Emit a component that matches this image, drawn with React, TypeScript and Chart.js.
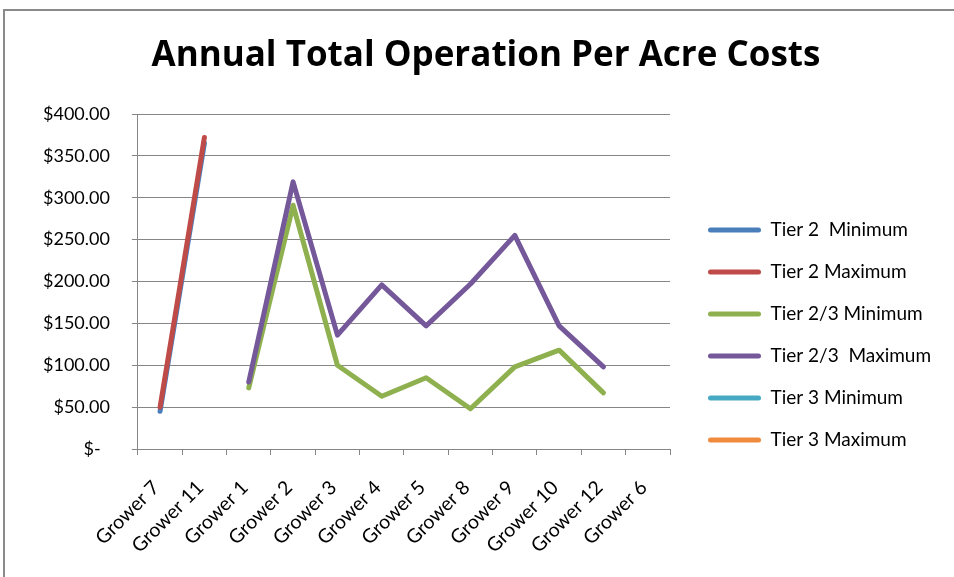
import React, { useEffect, useRef } from "react";
import { Chart, registerables } from "chart.js";

Chart.register(...registerables);

const categories = [
  "Grower 7", "Grower 11", "Grower 1", "Grower 2", "Grower 3", "Grower 4",
  "Grower 5", "Grower 8", "Grower 9", "Grower 10", "Grower 12", "Grower 6",
];

const tier2Min = [45, 365, null, null, null, null, null, null, null, null, null, null];
const tier2Max = [50, 372, null, null, null, null, null, null, null, null, null, null];
const tier23Min = [null, null, 73, 291, 100, 63, 85, 48, 98, 118, 67, null];
const tier23Max = [null, null, 80, 319, 136, 196, 147, 197, 255, 147, 98, null];
const tier3Min = [null, null, null, null, null, null, null, null, null, null, null, null];
const tier3Max = [null, null, null, null, null, null, null, null, null, null, null, null];

const seriesNames = [
  "Tier 2  Minimum",
  "Tier 2 Maximum",
  "Tier 2/3 Minimum",
  "Tier 2/3  Maximum",
  "Tier 3 Minimum",
  "Tier 3 Maximum",
];
const seriesColors = ["#4a7ebb", "#be4b48", "#8fb04e", "#74589a", "#46aac5", "#f08a3c"];

const yMin = 0;
const yMax = 400;
const yStep = 50;

const titleText = "Annual Total Operation Per Acre Costs";

const FONT = "Lato, 'Open Sans', sans-serif";
const TITLE_FONT = "'Open Sans', Lato, sans-serif";

const LEGEND_W = 266;
const LEGEND_TOP_SHIFT = 82;

const legendTweak = {
  id: "legendTweak",
  beforeLayout(chart: any) {
    const lg = chart.legend;
    if (lg && !lg.__patched) {
      const orig = lg.fit;
      lg.fit = function (this: any) {
        orig.call(this);
        this.width = LEGEND_W;
      };
      lg.__patched = true;
    }
  },
  afterLayout(chart: any) {
    const lg = chart.legend;
    if (lg) lg.top += LEGEND_TOP_SHIFT;
  },
};

export default function App() {
  const canvasRef = useRef<HTMLCanvasElement | null>(null);

  useEffect(() => {
    document.documentElement.style.overflow = "hidden";
    document.body.style.overflow = "hidden";
    const canvas = canvasRef.current;
    if (!canvas) return;
    const seriesData = [tier2Min, tier2Max, tier23Min, tier23Max, tier3Min, tier3Max];
    const chart = new Chart(canvas, {
      type: "line",
      data: {
        labels: categories,
        datasets: seriesData.map((d, i) => ({
          label: seriesNames[i],
          data: d,
          borderColor: seriesColors[i],
          backgroundColor: seriesColors[i],
          borderWidth: 5,
          pointRadius: 0,
          pointHoverRadius: 0,
          borderCapStyle: "round" as const,
          borderJoinStyle: "round" as const,
          tension: 0,
          spanGaps: false,
          order: 10 - i,
        })),
      },
      plugins: [legendTweak],
      options: {
        animation: false,
        responsive: false,
        maintainAspectRatio: false,
        layout: { padding: { left: 16, right: 14, top: 0, bottom: 0 } },
        plugins: {
          tooltip: { enabled: false },
          title: {
            display: true,
            text: titleText,
            color: "#000",
            font: { family: TITLE_FONT, size: 35, weight: "bold" },
            padding: { top: 24, bottom: 37 },
          },
          legend: {
            position: "right",
            labels: {
              color: "#000",
              font: { family: FONT, size: 19 },
              boxWidth: 53,
              boxHeight: 5,
              padding: 23,
              sort: (a: any, b: any) => a.datasetIndex - b.datasetIndex,
              generateLabels: (chart: any) =>
                chart.data.datasets.map((ds: any, i: number) => ({
                  text: ds.label,
                  fillStyle: ds.borderColor,
                  strokeStyle: ds.borderColor,
                  lineWidth: 0,
                  hidden: false,
                  datasetIndex: i,
                  borderRadius: 2.5,
                  fontColor: "#000",
                })),
            },
          },
        },
        scales: {
          x: {
            type: "category",
            offset: true,
            grid: {
              display: true,
              drawOnChartArea: false,
              drawTicks: true,
              tickLength: 6,
              color: "#868686",
              offset: true,
            },
            border: { display: true, color: "#868686", width: 1 },
            ticks: {
              color: "#000",
              font: { family: FONT, size: 19.5 },
              minRotation: 45,
              maxRotation: 45,
              autoSkip: false,
              padding: 21,
              labelOffset: -4,
            },
            afterFit: (s: any) => {
              s.height = 128;
            },
          },
          y: {
            min: yMin,
            max: yMax,
            grid: {
              color: "#868686",
              lineWidth: 1,
              drawTicks: true,
              tickLength: 6,
            },
            border: { display: true, color: "#868686", width: 1 },
            ticks: {
              stepSize: yStep,
              color: "#000",
              font: { family: FONT, size: 18 },
              padding: 22,
              callback: (v: any) => (Number(v) === 0 ? "$-  " : "$" + Number(v).toFixed(2)),
            },
          },
          yRight: {
            position: "right",
            display: false,
            afterFit: (s: any) => {
              s.width = 15;
            },
          },
        },
      },
    });
    return () => chart.destroy();
  }, []);

  return (
    <div
      style={{
        position: "fixed",
        left: 3,
        top: 9,
        width: 980,
        height: 600,
        borderLeft: "2px solid #8a8a8a",
        borderTop: "2px solid #8a8a8a",
        background: "#fff",
        boxSizing: "border-box",
      }}
    >
      <canvas
        ref={canvasRef}
        width={960}
        height={566}
        style={{ position: "absolute", left: 0, top: 0, width: 960, height: 566 }}
      />
    </div>
  );
}
